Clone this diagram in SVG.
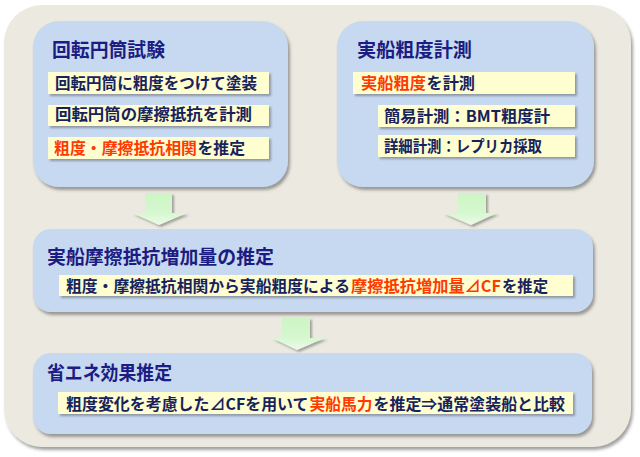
<svg xmlns="http://www.w3.org/2000/svg" width="640" height="457" viewBox="0 0 640 457">
<defs>
<filter id="sh" x="-10%" y="-10%" width="130%" height="140%">
<feDropShadow dx="2" dy="3" stdDeviation="1.6" flood-color="#555" flood-opacity="0.55"/>
</filter>
<filter id="shs" x="-10%" y="-20%" width="130%" height="160%">
<feDropShadow dx="2" dy="2" stdDeviation="1" flood-color="#555" flood-opacity="0.5"/>
</filter>
<linearGradient id="ag" x1="0" y1="0" x2="0" y2="1">
<stop offset="0" stop-color="#cdf5c4"/>
<stop offset="0.6" stop-color="#d6f7cf"/>
<stop offset="1" stop-color="#ecfbe8"/>
</linearGradient>
<style>
.bg{fill:#ebe9e0;}
.box{fill:#c6d9f1;}
.row{fill:#fefed0;}
.arrow{fill:url(#ag);}
.title{font-family:"Noto Sans CJK JP","Noto Sans",sans-serif;font-weight:bold;font-size:19.5px;fill:#1c1c82;}
.txt{font-family:"Noto Sans CJK JP","Noto Sans",sans-serif;font-weight:bold;font-size:15.8px;fill:#17225c;}
.red{fill:#ff3a00;}
</style>
</defs>
<rect width="640" height="457" fill="#ffffff"/>
<rect class="bg" x="4" y="5" width="627" height="442" rx="38" filter="url(#sh)"/>

<g id="connectors">
<path class="arrow" filter="url(#shs)" d="M145,193 H172 V213 H187 L159,225 L132,213 H145 Z"/>
<path class="arrow" filter="url(#shs)" d="M458,193 H486 V213 H497 L471,225 L443,213 H458 Z"/>
<path class="arrow" filter="url(#shs)" d="M282,318 H310 V338 H325 L297,350 L272,338 H282 Z"/>
</g>

<g id="node-kaiten">
<rect class="box" x="33" y="21" width="255" height="166" rx="26" filter="url(#sh)"/>
<text class="title" x="52" y="56.5" textLength="113" lengthAdjust="spacingAndGlyphs">回転円筒試験</text>
<rect class="row" x="48" y="72" width="221" height="22" filter="url(#shs)"/>
<text class="txt" x="55" y="89" textLength="202" lengthAdjust="spacingAndGlyphs">回転円筒に粗度をつけて塗装</text>
<rect class="row" x="48" y="105" width="221" height="21" filter="url(#shs)"/>
<text class="txt" x="55" y="120" textLength="197" lengthAdjust="spacingAndGlyphs">回転円筒の摩擦抵抗を計測</text>
<rect class="row" x="48" y="137" width="221" height="22" filter="url(#shs)"/>
<text class="txt red" x="54" y="153.5" textLength="143" lengthAdjust="spacingAndGlyphs">粗度・摩擦抵抗相関</text>
<text class="txt" x="197.5" y="153.5" textLength="47.5" lengthAdjust="spacingAndGlyphs">を推定</text>
</g>

<g id="node-jissen">
<rect class="box" x="337" y="21" width="257" height="166" rx="26" filter="url(#sh)"/>
<text class="title" x="357" y="56.5" textLength="115" lengthAdjust="spacingAndGlyphs">実船粗度計測</text>
<rect class="row" x="353" y="72" width="222" height="22" filter="url(#shs)"/>
<text class="txt red" x="361" y="89" textLength="65" lengthAdjust="spacingAndGlyphs">実船粗度</text>
<text class="txt" x="426.5" y="89" textLength="48.5" lengthAdjust="spacingAndGlyphs">を計測</text>
<rect class="row" x="378" y="105" width="197" height="22" filter="url(#shs)"/>
<text class="txt" x="384" y="122" textLength="166" lengthAdjust="spacingAndGlyphs">簡易計測：BMT粗度計</text>
<rect class="row" x="378" y="135" width="197" height="22" filter="url(#shs)"/>
<text class="txt" x="384" y="152" textLength="158" lengthAdjust="spacingAndGlyphs">詳細計測：レプリカ採取</text>
</g>

<g id="node-zouka">
<rect class="box" x="33" y="229" width="560" height="83" rx="18" filter="url(#sh)"/>
<text class="title" x="47" y="263.5" textLength="227" lengthAdjust="spacingAndGlyphs">実船摩擦抵抗増加量の推定</text>
<rect class="row" x="59" y="275" width="514" height="21" filter="url(#shs)"/>
<text class="txt" x="66" y="291.5" textLength="284" lengthAdjust="spacingAndGlyphs">粗度・摩擦抵抗相関から実船粗度による</text>
<text class="txt red" x="351" y="291.5" textLength="150" lengthAdjust="spacingAndGlyphs">摩擦抵抗増加量⊿CF</text>
<text class="txt" x="502" y="291.5" textLength="46" lengthAdjust="spacingAndGlyphs">を推定</text>
</g>

<g id="node-shoene">
<rect class="box" x="33" y="353" width="559" height="81" rx="18" filter="url(#sh)"/>
<text class="title" x="47" y="379.5" textLength="125" lengthAdjust="spacingAndGlyphs">省エネ効果推定</text>
<rect class="row" x="58" y="392" width="515" height="22" filter="url(#shs)"/>
<text class="txt" x="66" y="409.5" textLength="242.5" lengthAdjust="spacingAndGlyphs">粗度変化を考慮した⊿CFを用いて</text>
<text class="txt red" x="309.5" y="409.5" textLength="63" lengthAdjust="spacingAndGlyphs">実船馬力</text>
<text class="txt" x="373.5" y="409.5" textLength="191.5" lengthAdjust="spacingAndGlyphs">を推定⇒通常塗装船と比較</text>
</g>
</svg>
